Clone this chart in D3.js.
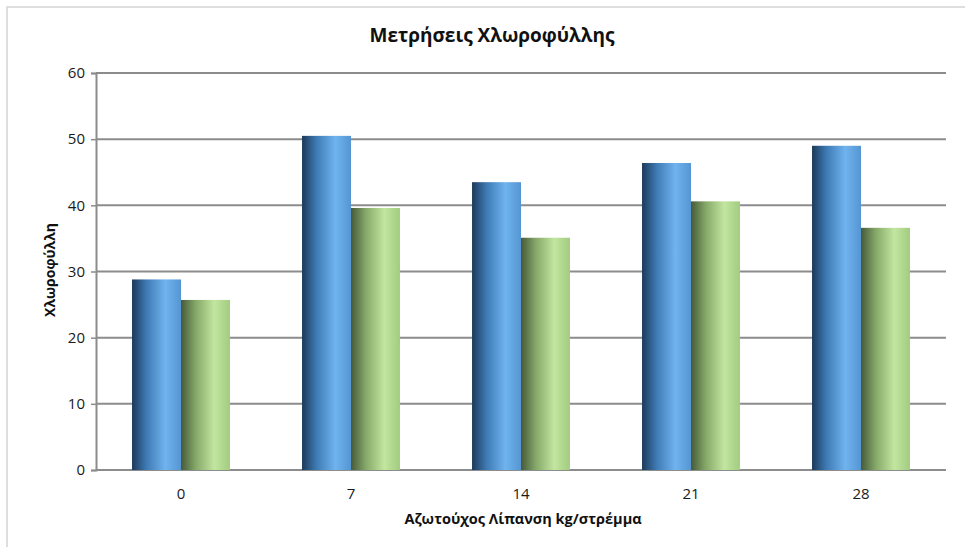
<!DOCTYPE html>
<html>
<head>
<meta charset="utf-8">
<script src="https://cdn.jsdelivr.net/npm/d3@7"></script>
<style>
  body { margin: 0; background: #fff; }
  text { font-family: "Open Sans", "Noto Sans", sans-serif; }
</style>
</head>
<body>
<div id="chart"></div>
<script>
// Chart values
var categories = ["0", "7", "14", "21", "28"];
var seriesBlue = [28.8, 50.5, 43.5, 46.4, 49.0];
var seriesGreen = [25.7, 39.6, 35.1, 40.6, 36.6];
var yTicks = [0, 10, 20, 30, 40, 50, 60];

const W = 965, H = 547;
const margin = {top: 73, right: 19, bottom: 77, left: 96},
    width = W - margin.left - margin.right,
    height = H - margin.top - margin.bottom;

var root = d3.select("#chart")
  .append("svg")
  .attr("width", W)
  .attr("height", H);

// gradients for the bars
var defs = root.append("defs");
function addGradient(id, stops) {
  var g = defs.append("linearGradient").attr("id", id)
    .attr("x1", "0%").attr("x2", "100%").attr("y1", "0%").attr("y2", "0%");
  stops.forEach(function(s) {
    g.append("stop").attr("offset", s[0]).attr("stop-color", s[1]);
  });
}
addGradient("gBlue", [["0%", "#1b3a59"], ["30%", "#3f7bb5"], ["68%", "#6fb3ef"], ["100%", "#5596d2"]]);
addGradient("gGreen", [["0%", "#46593a"], ["30%", "#85a868"], ["68%", "#c2e6a0"], ["100%", "#a2cb80"]]);

// outer border
root.append("rect")
  .attr("x", 7).attr("y", 7)
  .attr("width", W + 10).attr("height", H + 10)
  .attr("fill", "none")
  .attr("stroke", "#d4d4d4")
  .attr("stroke-width", 1.5);

var svg = root.append("g")
  .attr("transform", "translate(" + margin.left + "," + margin.top + ")");

const x = d3.scaleBand().domain(categories).range([0, width]).paddingInner(0.424).paddingOuter(0.212);
const xs = d3.scaleBand().domain(["blue", "green"]).range([0, x.bandwidth()]);
const y = d3.scaleLinear().domain([0, 60]).range([height, 0]);

// grid lines
svg.append("g")
  .selectAll("line")
  .data(yTicks)
  .join("line")
  .attr("x1", 0).attr("x2", width)
  .attr("y1", function(d) { return y(d); })
  .attr("y2", function(d) { return y(d); })
  .attr("stroke", "#8c8c8c")
  .attr("stroke-width", 2);

// y axis
var yAxis = svg.append("g")
  .call(d3.axisLeft(y).tickValues(yTicks).tickSize(5).tickPadding(6));
yAxis.select(".domain").attr("stroke", "#8c8c8c").attr("stroke-width", 2);
yAxis.selectAll(".tick line").attr("stroke", "#8c8c8c").attr("stroke-width", 1.5);
yAxis.selectAll("text").attr("font-size", 15).attr("fill", "#1a1a1a")
  .style("font-family", "'Open Sans', sans-serif");

// x axis labels
var xAxis = svg.append("g")
  .attr("transform", "translate(0," + height + ")")
  .call(d3.axisBottom(x).tickSize(0).tickPadding(18));
xAxis.select(".domain").remove();
xAxis.selectAll("text").attr("font-size", 15).attr("fill", "#1a1a1a")
  .style("font-family", "'Open Sans', sans-serif");

// bars
var groups = svg.append("g").selectAll("g")
  .data(categories)
  .join("g")
  .attr("transform", function(d) { return "translate(" + x(d) + ",0)"; });

groups.append("rect")
  .attr("x", xs("blue"))
  .attr("width", xs.bandwidth())
  .attr("y", function(d, i) { return y(seriesBlue[i]); })
  .attr("height", function(d, i) { return height - y(seriesBlue[i]); })
  .attr("fill", "url(#gBlue)");

groups.append("rect")
  .attr("x", xs("green"))
  .attr("width", xs.bandwidth())
  .attr("y", function(d, i) { return y(seriesGreen[i]); })
  .attr("height", function(d, i) { return height - y(seriesGreen[i]); })
  .attr("fill", "url(#gGreen)");

// title and axis titles
root.append("text")
  .attr("x", 492).attr("y", 42)
  .attr("text-anchor", "middle")
  .attr("font-size", 19)
  .attr("font-weight", "bold")
  .attr("fill", "#111")
  .text("Μετρήσεις Χλωροφύλλης");

root.append("text")
  .attr("x", 523).attr("y", 524)
  .attr("text-anchor", "middle")
  .attr("font-size", 14.5)
  .attr("font-weight", "bold")
  .attr("fill", "#111")
  .text("Αζωτούχος Λίπανση kg/στρέμμα");

root.append("text")
  .attr("transform", "translate(55,270) rotate(-90)")
  .attr("text-anchor", "middle")
  .attr("font-size", 14)
  .attr("font-weight", "bold")
  .attr("fill", "#111")
  .text("Χλωροφύλλη");
</script>
</body>
</html>
